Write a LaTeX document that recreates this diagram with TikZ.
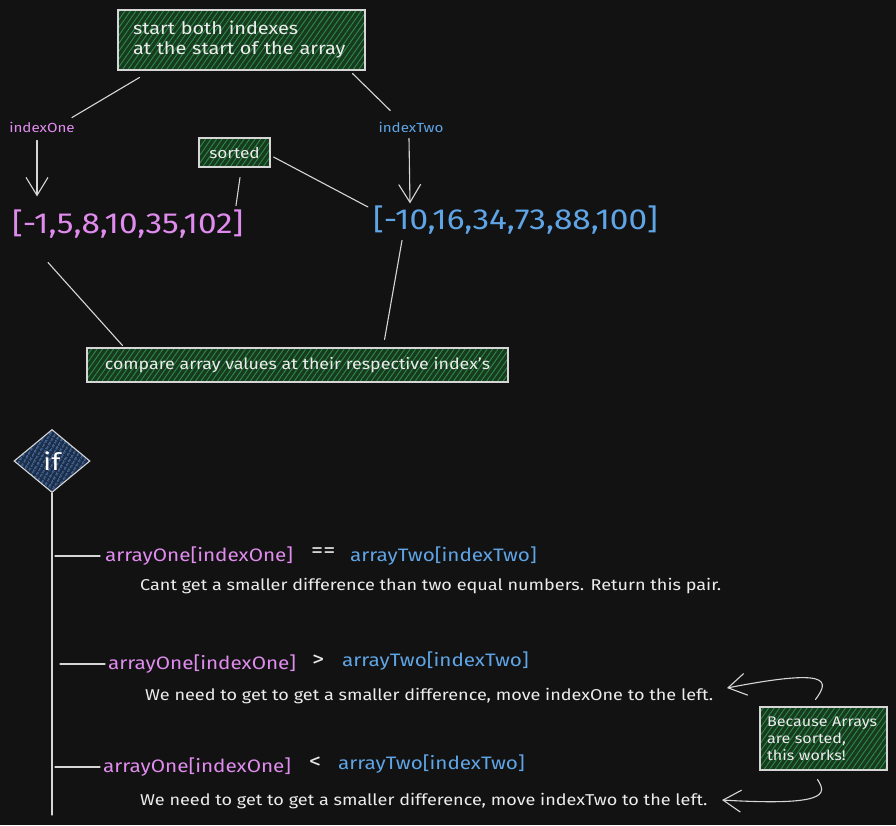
\documentclass[tikz,border=0pt]{standalone}
\usepackage{fontspec}
\setmainfont[FakeStretch=1.15]{Fira Sans}
\usetikzlibrary{patterns.meta,arrows.meta,shapes.geometric}
\definecolor{bg}{HTML}{121212}
\definecolor{pinkc}{HTML}{E08CEE}
\definecolor{bluec}{HTML}{5FA5E6}
\definecolor{gfill}{HTML}{173A20}
\definecolor{gline}{HTML}{2E8B45}
\definecolor{bfill}{HTML}{1B2F4C}
\definecolor{bline}{HTML}{4F82C4}
\definecolor{linec}{HTML}{D6D6D6}
\definecolor{txt}{HTML}{ECECEC}
\tikzset{
  note/.style={draw=linec, line width=1.1pt, preaction={fill=gfill},
    pattern={Lines[angle=55,distance=4.5pt,line width=0.9pt]}, pattern color=gline,
    text=txt, font=\fontsize{15.5}{20}\selectfont, inner sep=0pt},
  lbl/.style={inner sep=0pt, font=\fontsize{13.2}{16}\selectfont},
  arrtxt/.style={inner sep=0pt, font=\fontsize{29}{30}\selectfont},
  rowtxt/.style={inner sep=0pt, anchor=west, font=\fontsize{18}{22}\selectfont},
  optxt/.style={inner sep=0pt, anchor=west, text=txt, font=\fontsize{21}{22}\selectfont},
  desc/.style={inner sep=0pt, anchor=west, text=txt, font=\fontsize{15.7}{18}\selectfont},
  conn/.style={draw=linec, line width=1.1pt, line cap=round},
  arr/.style={conn, -{Straight Barb[length=18pt,width=22pt,line width=1.1pt]}},
}
\begin{document}
\begin{tikzpicture}[x=1pt,y=-1pt]
\fill[bg] (0,0) rectangle (896,825);
\useasboundingbox (0,0) rectangle (896,825);

% top box
\node[note, minimum width=247pt, minimum height=60pt, text width=217pt, align=left,
  font=\fontsize{17.3}{20}\selectfont]
  (box1) at (241.5,40) {start both indexes\\at the start of the array};
\node[lbl, text=pinkc] (io) at (42,127) {indexOne};
\node[lbl, text=bluec] (it) at (411,127) {indexTwo};
\node[note, minimum width=71pt, minimum height=29pt, font=\fontsize{15}{18}\selectfont] (sorted) at (234.5,152.5) {sorted};
\node[arrtxt, text=pinkc, anchor=west] (a1) at (12,224) {[-1,5,8,10,35,102]};
\node[arrtxt, text=bluec, anchor=west] (a2) at (373,220) {[-10,16,34,73,88,100]};
\node[note, minimum width=421pt, minimum height=34pt] (cmp) at (297.5,365)
  {compare array values at their respective index's};

\draw[conn] ([shift={(22,7)}]box1.south west) -- ([shift={(-3,-4)}]io.north east);
\draw[conn] ([shift={(-13,3)}]box1.south east) -- ([shift={(12,-11)}]it.north west);
\draw[arr] ([shift={(-5,8)}]io.south) -- ([shift={(-5,64)}]io.south);
\draw[arr] ([shift={(-2,6)}]it.south) -- ([shift={(-1,71)}]it.south);
\draw[conn] ([shift={(5.5,10)}]sorted.south) -- ([shift={(1.5,38)}]sorted.south);
\draw[conn] ([shift={(3,4.5)}]sorted.east) -- ([shift={(-5,-13)}]a2.west);
\draw[conn] ([shift={(36,24)}]a1.south west) -- ([shift={(36,-2)}]cmp.north west);
\draw[conn] ([shift={(29,6)}]a2.south west) -- ([shift={(-124,-8)}]cmp.north east);

% if diamond
\node[shape=diamond, draw=linec, line width=1.1pt, preaction={fill=bfill},
  pattern={Lines[angle=60,distance=4pt,line width=1pt]}, pattern color=bline,
  minimum width=76pt, minimum height=63pt, inner sep=0pt, text=white,
  font=\fontsize{24}{26}\selectfont] (dia) at (52,461) {if};
\coordinate (vend) at (52,815);
\draw[conn] (dia.south) -- (vend);

% rows
\node[rowtxt, text=pinkc] (r1a) at (105,556) {arrayOne[indexOne]};
\node[optxt] (r1o) at (311,553) {==};
\node[rowtxt, text=bluec] (r1b) at (350,556) {arrayTwo[indexTwo]};
\node[desc] (d1) at (140,586) {Cant get a smaller difference than two equal numbers. Return this pair.};

\node[rowtxt, text=pinkc] (r2a) at (108,664) {arrayOne[indexOne]};
\node[optxt] (r2o) at (312,661) {>};
\node[rowtxt, text=bluec] (r2b) at (342,661) {arrayTwo[indexTwo]};
\node[desc] (d2) at (145,696) {We need to get to get a smaller difference, move indexOne to the left.};

\node[rowtxt, text=pinkc] (r3a) at (103,767) {arrayOne[indexOne]};
\node[optxt] (r3o) at (309,763) {<};
\node[rowtxt, text=bluec] (r3b) at (338,764) {arrayTwo[indexTwo]};
\node[desc] (d3) at (140,801) {We need to get to get a smaller difference, move indexTwo to the left.};

\draw[conn] ([xshift=3pt]r1a.west -| vend) -- ([xshift=-5pt]r1a.west);
\draw[conn] ([xshift=8pt]r2a.west -| vend) -- ([xshift=-3pt]r2a.west);
\draw[conn] ([xshift=3pt]r3a.west -| vend) -- ([xshift=-3pt]r3a.west);

% because note
\node[note, minimum width=127pt, minimum height=63pt, text width=113pt, align=left,
  font=\fontsize{14}{17}\selectfont] (bec) at (823.5,738.5) {Because Arrays\\are sorted,\\this works!};
\draw[arr] ([shift={(-8,-7)}]bec.north) .. controls (830,680) and (830,668) .. (727,688);
\draw[arr] ([shift={(-6,9)}]bec.south) .. controls (828,795) and (825,806) .. (722,800);
\end{tikzpicture}
\end{document}
